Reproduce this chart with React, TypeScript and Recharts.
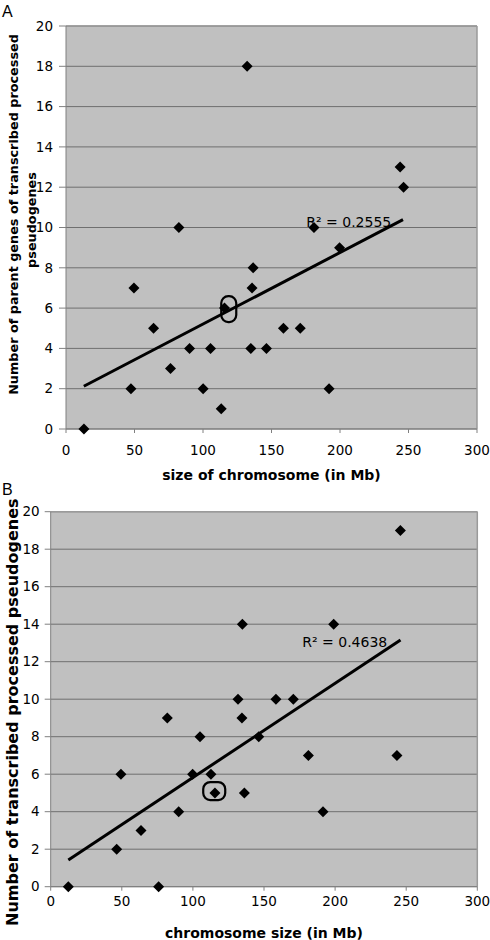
import React from 'react';
import {
  ComposedChart,
  Scatter,
  XAxis,
  YAxis,
  CartesianGrid,
  ReferenceLine,
  ReferenceDot,
} from 'recharts';

// panel A: parent genes of transcribed processed pseudogenes vs chromosome size
const sizeA = [13.1, 47.4, 49.6, 63.9, 76.3, 82.4, 90.2, 100.1, 105.5, 113.3, 115.7, 134.9, 135.8, 136.6, 132.2, 146.3, 158.7, 171, 181, 192, 199.7, 243.9, 246.4];
const countA = [0, 2, 7, 5, 3, 10, 4, 2, 4, 1, 6, 4, 7, 8, 18, 4, 5, 5, 10, 2, 9, 13, 12];
const trendAX = [13, 246];
const trendAY = [2.12, 10.39];
const highlightA = { x: 118.8, y: 5.95 };
const r2A = { x: 206.4, y: 10.27, text: 'R² = 0.2555' };

// panel B: transcribed processed pseudogenes vs chromosome size
const sizeB = [12.4, 75.9, 46.4, 63.5, 49.4, 82, 90, 99.8, 105, 112.7, 115.5, 131.7, 134.5, 136.2, 146.3, 158.4, 170.6, 181.2, 191.5, 243.5, 134.8, 199, 245.9];
const countB = [0, 0, 2, 3, 6, 9, 4, 6, 8, 6, 5, 10, 9, 5, 8, 10, 10, 7, 4, 7, 14, 14, 19];
const trendBX = [12.4, 246];
const trendBY = [1.42, 13.16];
const highlightB = { x: 115, y: 5.1 };
const r2B = { x: 206.8, y: 13.07, text: 'R² = 0.4638' };

const xTicks = [0, 50, 100, 150, 200, 250, 300];
const yTicks = [0, 2, 4, 6, 8, 10, 12, 14, 16, 18, 20];

const FONT = '"DejaVu Sans", Verdana, sans-serif';

const Diamond = (props: any) => {
  const { cx, cy } = props;
  const s = 5.5;
  return <polygon points={`${cx},${cy - s} ${cx + s},${cy} ${cx},${cy + s} ${cx - s},${cy}`} fill="#000" />;
};

const makeRing = (w: number, h: number) => (props: any) => {
  const { cx, cy } = props;
  return <rect x={cx - w / 2} y={cy - h / 2} width={w} height={h} rx={7} ry={7} fill="none" stroke="#000" strokeWidth={2.2} />;
};

const toPoints = (xs: number[], ys: number[]) => xs.map((x, i) => ({ x, y: ys[i] }));

interface PanelProps {
  xs: number[];
  ys: number[];
  tx: number[];
  ty: number[];
  ring: { x: number; y: number };
  ringW: number;
  ringH: number;
  r2: { x: number; y: number; text: string };
  width: number;
  height: number;
  margin: { top: number; right: number; left: number; bottom: number };
  yWidth: number;
  xHeight: number;
  yTickSize: number;
  yTickMargin: number;
  xTickMargin: number;
  xTitle: string;
  xTitleDy: number;
  xTitleSize: number;
  yTitleLines: { text: string; dx: number; dy: number }[];
  yTitleSize: number;
}

function Panel(p: PanelProps) {
  const pts = toPoints(p.xs, p.ys);
  const trend = toPoints(p.tx, p.ty);
  const tickStyle = { fontFamily: FONT, fontSize: 13.5, fill: '#000' };
  return (
    <ComposedChart width={p.width} height={p.height} margin={p.margin}>
      <CartesianGrid vertical={false} stroke="#6f6f6f" fill="#c0c0c0" fillOpacity={1} />
      <XAxis
        type="number"
        dataKey="x"
        domain={[0, 300]}
        ticks={xTicks}
        height={p.xHeight}
        tickSize={4}
        tickMargin={p.xTickMargin}
        tick={tickStyle}
        stroke="#808080"
        label={{
          content: (lp: any) => {
            const vb = lp.viewBox;
            return (
              <text x={vb.x + vb.width / 2} y={vb.y + p.xTitleDy} textAnchor="middle" dominantBaseline="central"
                style={{ fontFamily: FONT, fontSize: p.xTitleSize, fontWeight: 'bold' }} fill="#000">
                {p.xTitle}
              </text>
            );
          },
        }}
      />
      <YAxis
        type="number"
        dataKey="y"
        domain={[0, 20]}
        ticks={yTicks}
        width={p.yWidth}
        tickSize={p.yTickSize}
        tickMargin={p.yTickMargin}
        tick={tickStyle}
        stroke="#808080"
        label={{
          content: (lp: any) => {
            const vb = lp.viewBox;
            const cy = vb.y + vb.height / 2;
            return (
              <g>
                {p.yTitleLines.map((ln, i) => (
                  <text key={i} x={ln.dx} y={cy + ln.dy} textAnchor="middle" dominantBaseline="central"
                    transform={`rotate(-90, ${ln.dx}, ${cy + ln.dy})`}
                    style={{ fontFamily: FONT, fontSize: p.yTitleSize, fontWeight: 'bold' }} fill="#000">
                    {ln.text}
                  </text>
                ))}
              </g>
            );
          },
        }}
      />
      <ReferenceLine x={300} stroke="#9a9a9a" strokeWidth={1.5} />
      <ReferenceLine y={20} stroke="#9a9a9a" strokeWidth={1.5} />
      <Scatter data={trend} line={{ stroke: '#000', strokeWidth: 3 }} shape={() => <g />} isAnimationActive={false} />
      <Scatter data={pts} shape={Diamond} isAnimationActive={false} />
      <Scatter data={[p.ring]} shape={makeRing(p.ringW, p.ringH)} isAnimationActive={false} />
      <ReferenceDot x={p.r2.x} y={p.r2.y} r={0} stroke="none"
        label={{ value: p.r2.text, position: 'center', style: { fontFamily: FONT, fontSize: 14, fill: '#000' } }} />
    </ComposedChart>
  );
}

export default function App() {
  return (
    <div style={{ position: 'absolute', left: 0, top: 0, width: 490, height: 940, background: '#fff' }}>
      <div style={{ position: 'absolute', left: 0, top: 0 }}>
        <Panel
          xs={sizeA} ys={countA} tx={trendAX} ty={trendAY}
          ring={highlightA} ringW={15} ringH={26} r2={r2A}
          width={490} height={485}
          margin={{ top: 26, right: 13, left: 0, bottom: 0 }}
          yWidth={66} xHeight={56}
          yTickSize={7} yTickMargin={6} xTickMargin={12.5}
          xTitle="size of chromosome (in Mb)" xTitleDy={46} xTitleSize={14}
          yTitleLines={[
            { text: 'Number of parent genes of transcribed processed', dx: 13, dy: -13 },
            { text: 'pseudogenes', dx: 31, dy: -7.5 },
          ]}
          yTitleSize={12.8}
        />
      </div>
      <div style={{ position: 'absolute', left: 0, top: 485 }}>
        <Panel
          xs={sizeB} ys={countB} tx={trendBX} ty={trendBY}
          ring={highlightB} ringW={22} ringH={18} r2={r2B}
          width={490} height={455}
          margin={{ top: 26.7, right: 12.7, left: 0, bottom: 0 }}
          yWidth={50.7} xHeight={53.3}
          yTickSize={6} yTickMargin={5} xTickMargin={5.4}
          xTitle="chromosome size (in Mb)" xTitleDy={46.3} xTitleSize={14}
          yTitleLines={[{ text: 'Number of transcribed processed pseudogenes', dx: 13, dy: 13 }]}
          yTitleSize={16}
        />
      </div>
      <div style={{ position: 'absolute', left: 2, top: 3, fontFamily: '"Liberation Sans", Arial, sans-serif', fontSize: 16 }}>A</div>
      <div style={{ position: 'absolute', left: 2, top: 481, fontFamily: '"Liberation Sans", Arial, sans-serif', fontSize: 16 }}>B</div>
    </div>
  );
}
